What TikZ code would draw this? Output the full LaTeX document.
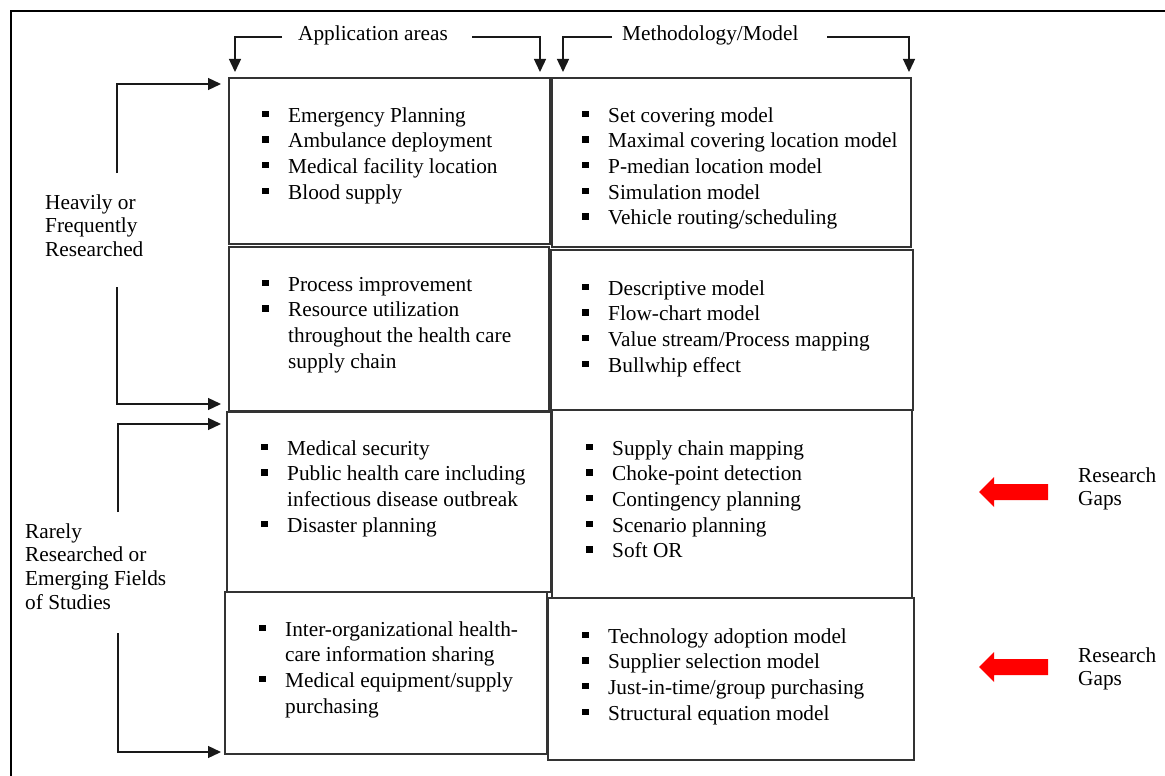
\documentclass[tikz,border=0pt]{standalone}
\usepackage{fontspec}
\setmainfont{Liberation Serif}
\usetikzlibrary{arrows.meta}
\newcommand{\bsq}{\rule[5pt]{6.5pt}{6.5pt}}
\begin{document}
\begin{tikzpicture}[x=1pt,y=-1pt,
  box/.style={draw=black!80, line width=1.3pt, rectangle, anchor=north west, inner sep=0pt, outer sep=0pt},
  lst/.style={anchor=base west, inner sep=0pt, font=\fontsize{21.3}{25.7}\selectfont},
  lbl/.style={anchor=base west, inner sep=0pt, font=\fontsize{21.3}{23.8}\selectfont},
  arr/.style={draw=black!90, line width=1.3pt, -{Triangle[length=13pt,width=12pt]}},
  gap/.style={fill=red}]
\useasboundingbox (0,0) rectangle (1165,776);
% outer frame
\draw[line width=2.5pt] (11,776) -- (11,11) -- (1165,11);

% boxes
\node[box, minimum width=321pt, minimum height=166pt] (b1l) at (229,78) {};
\node[box, minimum width=359pt, minimum height=169pt] (b1r) at (552,78) {};
\node[box, minimum width=320pt, minimum height=164pt] (b2l) at (229,247) {};
\node[box, minimum width=362pt, minimum height=160pt] (b2r) at (551,250) {};
\node[box, minimum width=324pt, minimum height=180pt] (b3l) at (227,412) {};
\node[box, minimum width=360pt, minimum height=188pt] (b3r) at (552,410) {};
\node[box, minimum width=322pt, minimum height=162pt] (b4l) at (225,592) {};
\node[box, minimum width=366pt, minimum height=162pt] (b4r) at (548,598) {};

% lists
\node[lst] (t1l) at (262,122) {\begin{tabular}[t]{@{}l@{\hspace{19.5pt}}l@{}}
\bsq & Emergency Planning\\
\bsq & Ambulance deployment\\
\bsq & Medical facility location\\
\bsq & Blood supply
\end{tabular}};
\node[lst] (t1r) at (582,122) {\begin{tabular}[t]{@{}l@{\hspace{19.5pt}}l@{}}
\bsq & Set covering model\\
\bsq & Maximal covering location model\\
\bsq & P-median location model\\
\bsq & Simulation model\\
\bsq & Vehicle routing/scheduling
\end{tabular}};
\node[lst] (t2l) at (262,291) {\begin{tabular}[t]{@{}l@{\hspace{19.5pt}}l@{}}
\bsq & Process improvement\\
\bsq & Resource utilization\\
 & throughout the health care\\
 & supply chain
\end{tabular}};
\node[lst] (t2r) at (582,295) {\begin{tabular}[t]{@{}l@{\hspace{19.5pt}}l@{}}
\bsq & Descriptive model\\
\bsq & Flow-chart model\\
\bsq & Value stream/Process mapping\\
\bsq & Bullwhip effect
\end{tabular}};
\node[lst] (t3l) at (261,455) {\begin{tabular}[t]{@{}l@{\hspace{19.5pt}}l@{}}
\bsq & Medical security\\
\bsq & Public health care including\\
 & infectious disease outbreak\\
\bsq & Disaster planning
\end{tabular}};
\node[lst] (t3r) at (586,455) {\begin{tabular}[t]{@{}l@{\hspace{19.5pt}}l@{}}
\bsq & Supply chain mapping\\
\bsq & Choke-point detection\\
\bsq & Contingency planning\\
\bsq & Scenario planning\\
\bsq & Soft OR
\end{tabular}};
\node[lst] (t4l) at (259,636) {\begin{tabular}[t]{@{}l@{\hspace{19.5pt}}l@{}}
\bsq & Inter-organizational health-\\
 & care information sharing\\
\bsq & Medical equipment/supply\\
 & purchasing
\end{tabular}};
\node[lst] (t4r) at (582,643) {\begin{tabular}[t]{@{}l@{\hspace{19.5pt}}l@{}}
\bsq & Technology adoption model\\
\bsq & Supplier selection model\\
\bsq & Just-in-time/group purchasing\\
\bsq & Structural equation model
\end{tabular}};

% headers
\node[lbl] (hA) at (298,41) {Application areas};
\node[lbl] (hM) at (622,41) {Methodology/Model};
\coordinate (aLs) at (282,37);
\coordinate (aLe) at (235,72);
\coordinate (aRs) at (472,37);
\coordinate (aRe) at (540,72);
\coordinate (mLs) at (612,37);
\coordinate (mLe) at (563,72);
\coordinate (mRs) at (827,37);
\coordinate (mRe) at (909,72);
\draw[arr] (aLs) -| (aLe);
\draw[arr] (aRs) -| (aRe);
\draw[arr] (mLs) -| (mLe);
\draw[arr] (mRs) -| (mRe);

% left labels
\node[lbl] (lh) at (45,209) {\begin{tabular}[t]{@{}l@{}}Heavily or\\Frequently\\Researched\end{tabular}};
\node[lbl] (lr) at (25,538) {\begin{tabular}[t]{@{}l@{}}Rarely\\Researched or\\Emerging Fields\\of Studies\end{tabular}};
\coordinate (h1s) at (117,173);
\coordinate (h1e) at (221,84);
\coordinate (h2s) at (117,287);
\coordinate (h2e) at (221,404);
\coordinate (r1s) at (118,512);
\coordinate (r1e) at (221,424);
\coordinate (r2s) at (118,633);
\coordinate (r2e) at (221,752);
\draw[arr] (h1s) |- (h1e);
\draw[arr] (h2s) |- (h2e);
\draw[arr] (r1s) |- (r1e);
\draw[arr] (r2s) |- (r2e);

% research gaps
\fill[gap] (979,492) -- (994,477) -- (994,484) -- (1048,484) -- (1048,500) -- (994,500) -- (994,507) -- cycle;
\fill[gap] (979,667) -- (994,652) -- (994,659) -- (1048,659) -- (1048,675) -- (994,675) -- (994,682) -- cycle;
\node[lbl] (g1) at (1078,482) {\begin{tabular}[t]{@{}l@{}}Research\\Gaps\end{tabular}};
\node[lbl] (g2) at (1078,662) {\begin{tabular}[t]{@{}l@{}}Research\\Gaps\end{tabular}};
\end{tikzpicture}
\end{document}
